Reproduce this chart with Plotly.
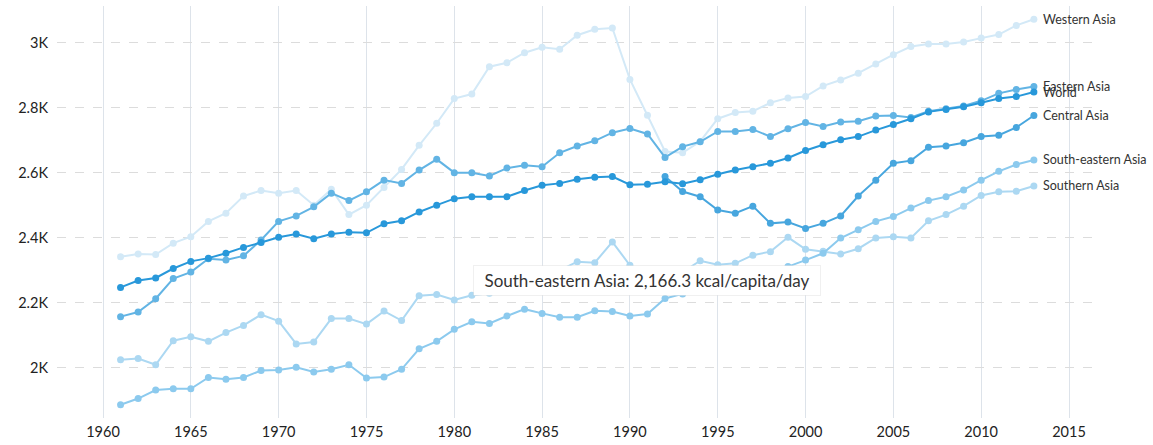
import plotly.graph_objects as go

years = list(range(1961, 2014))

western_asia = [
    2342, 2351, 2349, 2384, 2404, 2451, 2476, 2529, 2546, 2538,
    2546, 2501, 2550, 2472, 2501, 2555, 2611, 2685, 2753, 2829,
    2843, 2927, 2939, 2970, 2987, 2981, 3024, 3042, 3046, 2888,
    2778, 2666, 2662, 2697, 2767, 2786, 2790, 2816, 2831, 2835,
    2868, 2886, 2907, 2935, 2964, 2989, 2997, 2997, 3003, 3015,
    3026, 3054, 3073,
]
world = [
    2248, 2269, 2277, 2306, 2328, 2338, 2353, 2371, 2386, 2402,
    2412, 2398, 2412, 2418, 2416, 2444, 2453, 2480, 2501, 2521,
    2527, 2527, 2527, 2546, 2562, 2568, 2581, 2587, 2589, 2564,
    2565, 2573, 2567, 2579, 2596, 2609, 2619, 2630, 2646, 2669,
    2687, 2702, 2712, 2732, 2749, 2767, 2788, 2795, 2804, 2816,
    2829, 2835, 2849,
]
eastern_asia = [
    2158, 2172, 2213, 2275, 2295, 2336, 2332, 2345, 2394, 2451,
    2468, 2496, 2538, 2515, 2542, 2578, 2568, 2609, 2642, 2601,
    2601, 2591, 2615, 2624, 2619, 2662, 2683, 2699, 2724, 2737,
    2720, 2648, 2681, 2696, 2728, 2728, 2734, 2712, 2736, 2755,
    2743, 2757, 2759, 2775, 2777, 2771, 2790, 2798, 2806, 2822,
    2845, 2857, 2866,
]
central_asia = [None] * 31 + [
    2589, 2543, 2527, 2486, 2476, 2498, 2445, 2449, 2429,
    2445, 2468, 2529, 2578, 2630, 2638, 2679, 2683, 2693, 2712,
    2716, 2740, 2777,
]
southern_asia = [
    2025, 2029, 2010, 2084, 2096, 2082, 2109, 2131, 2164, 2144,
    2074, 2080, 2152, 2152, 2135, 2175, 2146, 2222, 2226, 2209,
    2224, 2230, 2245, 2262, 2278, 2300, 2327, 2324, 2388, 2316,
    2278, 2270, 2295, 2330, 2318, 2322, 2347, 2358, 2402, 2365,
    2359, 2351, 2367, 2400, 2404, 2400, 2453, 2472, 2498, 2531,
    2542, 2544, 2560,
]
south_eastern_asia = [
    1887, 1906, 1932, 1936, 1936, 1971, 1965, 1971, 1992, 1994,
    2002, 1988, 1996, 2010, 1969, 1972, 1996, 2059, 2082, 2119,
    2142, 2137, 2160, 2181, 2168, 2156, 2156, 2176, 2174, 2160,
    2166.3, 2214, 2228, 2245, 2262, 2275, 2290, 2300, 2312, 2332,
    2353, 2400, 2425, 2451, 2466, 2492, 2515, 2527, 2548, 2578,
    2605, 2626, 2640,
]

series = [
    ("Western Asia", western_asia, "#d3e9f7"),
    ("Southern Asia", southern_asia, "#acd8f2"),
    ("South-eastern Asia", south_eastern_asia, "#8ccaee"),
    ("Eastern Asia", eastern_asia, "#62b4e4"),
    ("Central Asia", central_asia, "#47a6de"),
    ("World", world, "#2898da"),
]

y_ticks = [2000, 2200, 2400, 2600, 2800, 3000]
y_tick_text = ["2K", "2.2K", "2.4K", "2.6K", "2.8K", "3K"]
x_ticks = list(range(1960, 2016, 5))

font = "Lato, 'Noto Sans', sans-serif"

fig = go.Figure()
for name, vals, color in series:
    fig.add_trace(
        go.Scatter(
            x=years,
            y=vals,
            mode="lines+markers",
            name=name,
            line=dict(color=color, width=2),
            marker=dict(color=color, size=7),
            connectgaps=False,
            cliponaxis=False,
        )
    )
    # end label
    fig.add_annotation(
        x=years[-1], y=vals[-1], text=name, showarrow=False,
        xanchor="left", yanchor="middle", xshift=7,
        font=dict(family=font, size=12.5, color="#333"),
    )

# tooltip-like box
fig.add_annotation(
    x=1991, y=2166.3, text="▼", showarrow=False,
    yanchor="bottom", yshift=9,
    font=dict(family="DejaVu Sans", size=10, color="white"),
)
fig.add_annotation(
    x=1991, y=2166.3,
    text="South-eastern Asia: 2,166.3 kcal/capita/day",
    showarrow=False, xanchor="center", yanchor="bottom", yshift=18,
    bgcolor="white", bordercolor="rgba(0,0,0,0.06)", borderwidth=1,
    borderpad=4, width=338, height=21,
    font=dict(family=font, size=17, color="#333"),
)

fig.update_layout(
    width=1153,
    height=445,
    margin=dict(l=57, r=56, t=6, b=27),
    paper_bgcolor="white",
    plot_bgcolor="white",
    showlegend=False,
    hovermode=False,
    font=dict(family=font, size=14, color="#333"),
    xaxis=dict(
        range=[1957.381, 2016.594],
        tickvals=x_ticks,
        showgrid=True,
        gridcolor="#dde3ea",
        gridwidth=1,
        zeroline=False,
        showline=False,
        ticks="",
        automargin=False,
        ticklabelstandoff=3,
        tickfont=dict(family=font, size=14.5, color="#222"),
    ),
    yaxis=dict(
        range=[1846.1, 3113.8],
        tickvals=y_ticks,
        ticktext=y_tick_text,
        showgrid=True,
        gridcolor="#dcdcdc",
        griddash="dash",
        gridwidth=1,
        zeroline=False,
        showline=False,
        ticks="",
        automargin=False,
        ticklabelstandoff=8,
        tickfont=dict(family=font, size=14.5, color="#222"),
    ),
)

fig.write_html(
    "out.html",
    config={"displayModeBar": False},
    post_script="document.body.style.margin='0';",
)
